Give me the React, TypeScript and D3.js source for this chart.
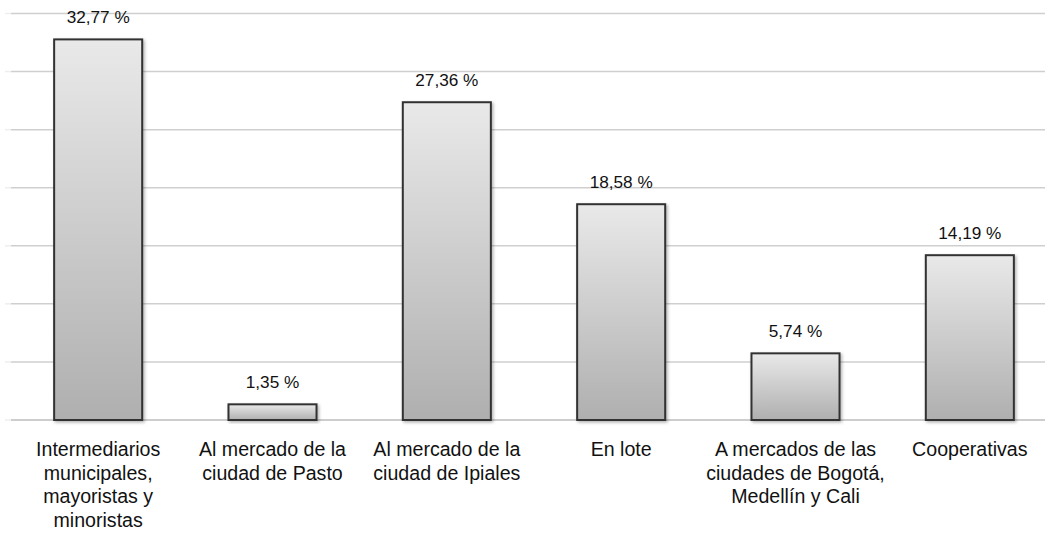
import React, { useRef, useEffect } from 'react';
import { select, scaleBand, scaleLinear, range } from 'd3';

const categories = [
  ['Intermediarios', 'municipales,', 'mayoristas y', 'minoristas'],
  ['Al mercado de la', 'ciudad de Pasto'],
  ['Al mercado de la', 'ciudad de Ipiales'],
  ['En lote'],
  ['A mercados de las', 'ciudades de Bogotá,', 'Medellín y Cali'],
  ['Cooperativas'],
];
const values = [32.77, 1.35, 27.36, 18.58, 5.74, 14.19];
const valueLabels = ['32,77 %', '1,35 %', '27,36 %', '18,58 %', '5,74 %', '14,19 %'];
const yTicks = range(0, 36, 5);

const W = 1045;
const H = 535;

function App() {
  const svgRef = useRef<SVGSVGElement>(null);

  useEffect(() => {
    const svg = select(svgRef.current);
    svg.selectAll('*').remove();

    const x = scaleBand<number>()
      .domain(values.map((d, i) => i))
      .range([11, 1057])
      .paddingInner(0.495)
      .paddingOuter(0.2475);
    const y = scaleLinear().domain([0, 35]).range([420, 13.5]);

    const defs = svg.append('defs');
    const grad = defs
      .append('linearGradient')
      .attr('id', 'barGrad')
      .attr('x1', 0)
      .attr('y1', 0)
      .attr('x2', 0)
      .attr('y2', 1);
    grad.append('stop').attr('offset', '0%').attr('stop-color', '#e9e9e9');
    grad.append('stop').attr('offset', '100%').attr('stop-color', '#afafaf');

    const shadow = defs.append('filter').attr('id', 'shadow').attr('x', '-10%').attr('y', '-10%').attr('width', '130%').attr('height', '130%');
    shadow
      .append('feDropShadow')
      .attr('dx', 1.5)
      .attr('dy', 1.5)
      .attr('stdDeviation', 1.5)
      .attr('flood-color', '#000')
      .attr('flood-opacity', 0.3);

    // grid lines
    svg
      .selectAll('.grid')
      .data(yTicks)
      .join('line')
      .attr('class', 'grid')
      .attr('x1', 11)
      .attr('x2', W)
      .attr('y1', (d) => y(d))
      .attr('y2', (d) => y(d))
      .attr('stroke', (d) => (d === 0 ? '#bdbdbd' : '#cfcfcf'))
      .attr('stroke-width', 1.5);

    svg
      .selectAll('.tick')
      .data(yTicks)
      .join('line')
      .attr('class', 'tick')
      .attr('x1', 5)
      .attr('x2', 11)
      .attr('y1', (d) => y(d))
      .attr('y2', (d) => y(d))
      .attr('stroke', '#eeeeee')
      .attr('stroke-width', 1.5);

    svg
      .selectAll('.bar')
      .data(values)
      .join('rect')
      .attr('class', 'bar')
      .attr('x', (d, i) => x(i)!)
      .attr('y', (d) => y(d))
      .attr('width', x.bandwidth())
      .attr('height', (d) => y(0) - y(d))
      .attr('fill', 'url(#barGrad)')
      .attr('stroke', '#333333')
      .attr('stroke-width', 2)
      .attr('filter', 'url(#shadow)');

    svg
      .selectAll('.val')
      .data(values)
      .join('text')
      .attr('class', 'val')
      .attr('x', (d, i) => x(i)! + x.bandwidth() / 2)
      .attr('y', (d) => y(d) - 16)
      .attr('text-anchor', 'middle')
      .attr('font-family', '"Liberation Sans", Arial, sans-serif')
      .attr('font-size', 17.2)
      .attr('fill', '#111111')
      .text((d, i) => valueLabels[i]);

    const cat = svg
      .selectAll('.cat')
      .data(categories)
      .join('text')
      .attr('class', 'cat')
      .attr('text-anchor', 'middle')
      .attr('font-family', '"Liberation Sans", Arial, sans-serif')
      .attr('font-size', 19.6)
      .attr('fill', '#111111');
    cat.each(function (lines, i) {
      select(this)
        .selectAll('tspan')
        .data(lines)
        .join('tspan')
        .attr('x', x(i)! + x.bandwidth() / 2)
        .attr('y', (d, j) => 456 + j * 23.5)
        .text((d) => d);
    });
  }, []);

  return (
    <svg
      ref={svgRef}
      width={W}
      height={H}
      style={{ position: 'absolute', left: 0, top: 0, background: '#fff' }}
    />
  );
}

export default App;
